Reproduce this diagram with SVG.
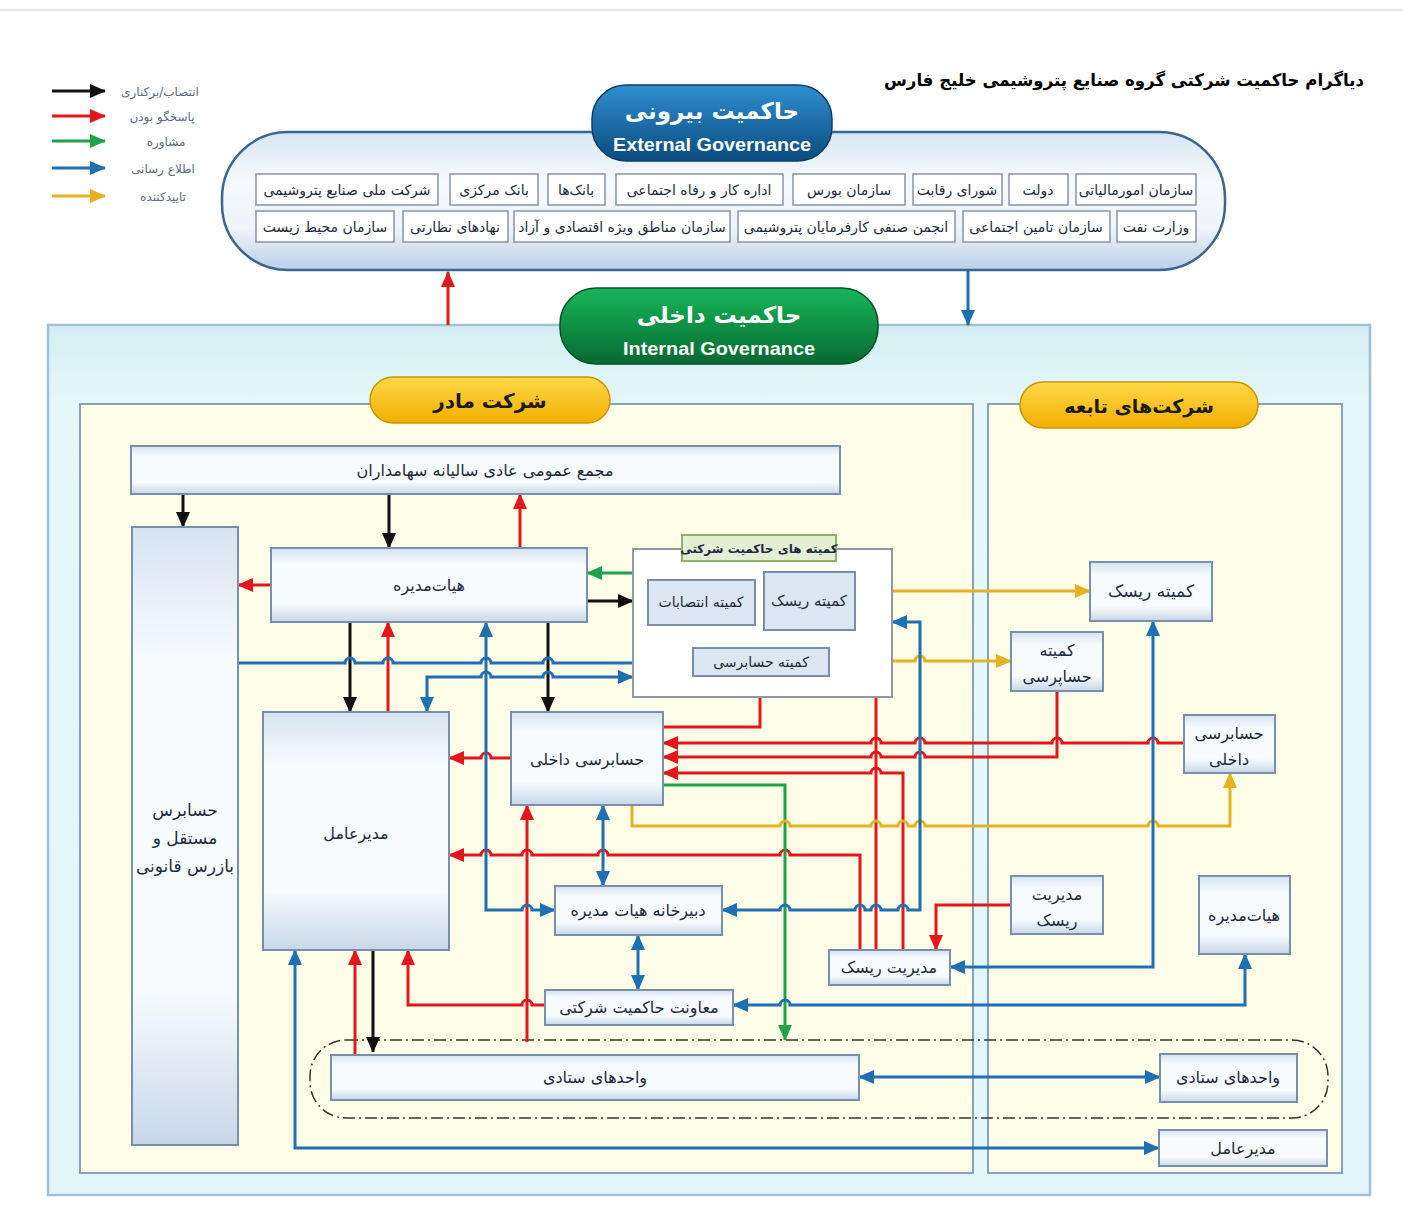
<svg xmlns="http://www.w3.org/2000/svg" width="1403" height="1221" viewBox="0 0 1403 1221">
<defs>
<linearGradient id="gExt" x1="0" y1="0" x2="0" y2="1"><stop offset="0" stop-color="#d6e5f3"/><stop offset="0.35" stop-color="#f7fafd"/><stop offset="0.7" stop-color="#eef4fa"/><stop offset="1" stop-color="#b9d0e8"/></linearGradient>
<linearGradient id="gBlue" x1="0" y1="0" x2="0" y2="1"><stop offset="0" stop-color="#2f8fd0"/><stop offset="1" stop-color="#0b4b80"/></linearGradient>
<linearGradient id="gGreen" x1="0" y1="0" x2="0" y2="1"><stop offset="0" stop-color="#17b659"/><stop offset="1" stop-color="#086a31"/></linearGradient>
<linearGradient id="gYel" x1="0" y1="0" x2="0" y2="1"><stop offset="0" stop-color="#ffd84a"/><stop offset="1" stop-color="#f2ae00"/></linearGradient>
<linearGradient id="gNode" x1="0" y1="0" x2="0" y2="1"><stop offset="0" stop-color="#d6e3f1"/><stop offset="0.22" stop-color="#f8fbfe"/><stop offset="0.75" stop-color="#f8fbfe"/><stop offset="1" stop-color="#c7d7e8"/></linearGradient>
<linearGradient id="gIn" x1="0" y1="0" x2="0" y2="1"><stop offset="0" stop-color="#d3eef3"/><stop offset="0.1" stop-color="#e6f8fa"/><stop offset="1" stop-color="#e2f5f8"/></linearGradient>
<marker id="aK" markerUnits="userSpaceOnUse" markerWidth="16" markerHeight="14" refX="15" refY="7" orient="auto-start-reverse"><path d="M0,0 L16,7 L0,14 z" fill="#111"/></marker>
<marker id="aR" markerUnits="userSpaceOnUse" markerWidth="16" markerHeight="14" refX="15" refY="7" orient="auto-start-reverse"><path d="M0,0 L16,7 L0,14 z" fill="#e3161c"/></marker>
<marker id="aG" markerUnits="userSpaceOnUse" markerWidth="16" markerHeight="14" refX="15" refY="7" orient="auto-start-reverse"><path d="M0,0 L16,7 L0,14 z" fill="#1fa34a"/></marker>
<marker id="aB" markerUnits="userSpaceOnUse" markerWidth="16" markerHeight="14" refX="15" refY="7" orient="auto-start-reverse"><path d="M0,0 L16,7 L0,14 z" fill="#1f6fb3"/></marker>
<marker id="aY" markerUnits="userSpaceOnUse" markerWidth="16" markerHeight="14" refX="15" refY="7" orient="auto-start-reverse"><path d="M0,0 L16,7 L0,14 z" fill="#e5b222"/></marker>
</defs>
<style>
.t{font-family:"DejaVu Sans",sans-serif;font-size:16px;fill:#1c2b3c;text-anchor:middle}
.e{font-size:14px}
.w{fill:#fff}
.b{font-weight:bold}
.box{fill:url(#gNode);stroke:#7890ab;stroke-width:2}
.cb{fill:#dbe6f2;stroke:#7a8ea6;stroke-width:2}
.ext{fill:#fff;stroke:#8795a6;stroke-width:1.5}
.c{fill:none;stroke-width:3;stroke-linejoin:miter}
.k{stroke:#111}.r{stroke:#e3161c}.g{stroke:#1fa34a}.bl{stroke:#1f6fb3}.y{stroke:#e5b222}
.lg{font-family:"DejaVu Sans",sans-serif;font-size:12px;fill:#5b6b80;text-anchor:middle}
.en{font-family:"Liberation Sans",sans-serif;font-size:19px;font-weight:bold;fill:#fff;text-anchor:middle}
</style>
<rect width="1403" height="1221" fill="#fff"/>
<line x1="0" y1="10" x2="1403" y2="10" stroke="#c9d2dc" stroke-width="1"/>

<g id="title"><text class="t b" x="1124" y="86" style="font-size:17px;fill:#000" textLength="480" lengthAdjust="spacingAndGlyphs">دیاگرام حاکمیت شرکتی گروه صنایع پتروشیمی خلیج فارس</text></g>

<g id="legend">
<line class="c k" x1="52" y1="91" x2="105" y2="91" marker-end="url(#aK)"/>
<line class="c r" x1="52" y1="116" x2="105" y2="116" marker-end="url(#aR)"/>
<line class="c g" x1="52" y1="141" x2="105" y2="141" marker-end="url(#aG)"/>
<line class="c bl" x1="52" y1="168" x2="105" y2="168" marker-end="url(#aB)"/>
<line class="c y" x1="52" y1="196" x2="105" y2="196" marker-end="url(#aY)"/>
<text class="lg" x="160" y="96">انتصاب/برکناری</text>
<text class="lg" x="162" y="121">پاسخگو بودن</text>
<text class="lg" x="166" y="146">مشاوره</text>
<text class="lg" x="163" y="173">اطلاع رسانی</text>
<text class="lg" x="163" y="201">تاییدکننده</text>
</g>

<g id="external">
<rect x="222" y="132" width="1003" height="138" rx="66" fill="url(#gExt)" stroke="#3c6690" stroke-width="2.5"/>
<g id="ext-title"><rect x="592" y="85" width="240" height="76" rx="34" fill="url(#gBlue)" stroke="#0a3d68" stroke-width="1.5"/>
<text class="t w b" x="712" y="119" style="font-size:23px">حاکمیت بیرونی</text>
<text class="en" x="712" y="151" textLength="198" lengthAdjust="spacingAndGlyphs">External Governance</text></g>
<g id="e1"><rect class="ext" x="256" y="174" width="182" height="31"/><text class="t e" x="347" y="195">شرکت ملی صنایع پتروشیمی</text></g>
<g id="e2"><rect class="ext" x="450" y="174" width="88" height="31"/><text class="t e" x="494" y="195">بانک مرکزی</text></g>
<g id="e3"><rect class="ext" x="548" y="174" width="57" height="31"/><text class="t e" x="576" y="195">بانک&#8204;ها</text></g>
<g id="e4"><rect class="ext" x="616" y="174" width="167" height="31"/><text class="t e" x="699" y="195">اداره کار و رفاه اجتماعی</text></g>
<g id="e5"><rect class="ext" x="793" y="174" width="112" height="31"/><text class="t e" x="849" y="195">سازمان بورس</text></g>
<g id="e6"><rect class="ext" x="913" y="174" width="89" height="31"/><text class="t e" x="957" y="195">شورای رقابت</text></g>
<g id="e7"><rect class="ext" x="1009" y="174" width="59" height="31"/><text class="t e" x="1038" y="195">دولت</text></g>
<g id="e8"><rect class="ext" x="1076" y="174" width="120" height="31"/><text class="t e" x="1136" y="195">سازمان امورمالیاتی</text></g>
<g id="e9"><rect class="ext" x="256" y="211" width="138" height="31"/><text class="t e" x="325" y="232">سازمان محیط زیست</text></g>
<g id="e10"><rect class="ext" x="403" y="211" width="105" height="31"/><text class="t e" x="455" y="232">نهادهای نظارتی</text></g>
<g id="e11"><rect class="ext" x="514" y="211" width="216" height="31"/><text class="t e" x="622" y="232">سازمان مناطق ویژه اقتصادی و آزاد</text></g>
<g id="e12"><rect class="ext" x="738" y="211" width="217" height="31"/><text class="t e" x="846" y="232">انجمن صنفی کارفرمایان پتروشیمی</text></g>
<g id="e13"><rect class="ext" x="963" y="211" width="147" height="31"/><text class="t e" x="1036" y="232">سازمان تامین اجتماعی</text></g>
<g id="e14"><rect class="ext" x="1117" y="211" width="79" height="31"/><text class="t e" x="1156" y="232">وزارت نفت</text></g>
</g>

<g id="internal">
<rect x="48" y="325" width="1322" height="870" fill="url(#gIn)" stroke="#9fc2d2" stroke-width="2.5"/>
<rect x="80" y="404" width="893" height="769" fill="#fefde8" stroke="#86a3be" stroke-width="2"/>
<rect x="988" y="404" width="354" height="769" fill="#fefde8" stroke="#86a3be" stroke-width="2"/>
<g id="int-title"><rect x="560" y="288" width="318" height="76" rx="36" fill="url(#gGreen)" stroke="#064d24" stroke-width="1.5"/>
<text class="t w b" x="719" y="323" style="font-size:23px">حاکمیت داخلی</text>
<text class="en" x="719" y="355" textLength="192" lengthAdjust="spacingAndGlyphs">Internal Governance</text></g>
<g id="mother-label"><rect x="370" y="377" width="240" height="46" rx="23" fill="url(#gYel)" stroke="#c99500" stroke-width="1.5"/><text class="t b" x="490" y="408" style="font-size:20px;fill:#1a1a1a">شرکت مادر</text></g>
<g id="sub-label"><rect x="1020" y="382" width="238" height="46" rx="23" fill="url(#gYel)" stroke="#c99500" stroke-width="1.5"/><text class="t b" x="1139" y="413" style="font-size:19px;fill:#1a1a1a">شرکت&#8204;های تابعه</text></g>
</g>

<g id="staff-group"><rect x="310" y="1040" width="1018" height="78" rx="36" fill="none" stroke="#333" stroke-width="1.5" stroke-dasharray="12,4,2,4"/></g>

<g id="connectors">
<path class="c r" d="M448,325 V272" marker-end="url(#aR)"/>
<path class="c bl" d="M968,270 V325" marker-end="url(#aB)"/>
<path class="c k" d="M183,494 V527" marker-end="url(#aK)"/>
<path class="c k" d="M389,494 V548" marker-end="url(#aK)"/>
<path class="c k" d="M587,601 H633" marker-end="url(#aK)"/>
<path class="c k" d="M350,622 V712" marker-end="url(#aK)"/>
<path class="c k" d="M548,622 V712" marker-end="url(#aK)"/>
<path class="c k" d="M373,950 V1052" marker-end="url(#aK)"/>
<path class="c r" d="M520,548 V494" marker-end="url(#aR)"/>
<path class="c r" d="M271,585 H238" marker-end="url(#aR)"/>
<path class="c r" d="M388,712 V622" marker-end="url(#aR)"/>
<path class="c r" d="M511,758 H491 a5,5 0 0 0 -10,0 H449" marker-end="url(#aR)"/>
<path class="c r" d="M663,727 H760 V676" marker-end="url(#aR)"/>
<path class="c r" d="M1184,743 H1158 a5,5 0 0 0 -10,0 H1062 a5,5 0 0 0 -10,0 H925 a5,5 0 0 0 -10,0 H881 a5,5 0 0 0 -10,0 H663" marker-end="url(#aR)"/>
<path class="c r" d="M1057,691 V757 H925 a5,5 0 0 0 -10,0 H881 a5,5 0 0 0 -10,0 H663" marker-end="url(#aR)"/>
<path class="c r" d="M903,950 V773 H881 a5,5 0 0 0 -10,0 H663" marker-end="url(#aR)"/>
<path class="c r" d="M876,950 V603 H855" marker-end="url(#aR)"/>
<path class="c r" d="M860,950 V855 H790 a5,5 0 0 0 -10,0 H608 a5,5 0 0 0 -10,0 H532 a5,5 0 0 0 -10,0 H491 a5,5 0 0 0 -10,0 H449" marker-end="url(#aR)"/>
<path class="c r" d="M545,1005 H532 a5,5 0 0 0 -10,0 H408 V950" marker-end="url(#aR)"/>
<path class="c r" d="M527,1042 V805" marker-end="url(#aR)"/>
<path class="c r" d="M355,1055 V950" marker-end="url(#aR)"/>
<path class="c r" d="M1011,905 H936 V950" marker-end="url(#aR)"/>
<path class="c g" d="M633,573 H587" marker-end="url(#aG)"/>
<path class="c g" d="M663,785 H785 V1040" marker-end="url(#aG)"/>
<path class="c y" d="M855,591 H1090" marker-end="url(#aY)"/>
<path class="c y" d="M829,661 H871 a5,5 0 0 1 10,0 H915 a5,5 0 0 1 10,0 H1011" marker-end="url(#aY)"/>
<path class="c y" d="M632,805 V826 H780 a5,5 0 0 1 10,0 H871 a5,5 0 0 1 10,0 H898 a5,5 0 0 1 10,0 H915 a5,5 0 0 1 10,0 H1148 a5,5 0 0 1 10,0 H1230 V773" marker-end="url(#aY)"/>
<path class="c bl" d="M238,663 H345 a5,5 0 0 1 10,0 H383 a5,5 0 0 1 10,0 H481 a5,5 0 0 1 10,0 H543 a5,5 0 0 1 10,0 H693" marker-end="url(#aB)"/>
<path class="c bl" d="M427,712 V677 H481 a5,5 0 0 1 10,0 H543 a5,5 0 0 1 10,0 H633" marker-start="url(#aB)" marker-end="url(#aB)"/>
<path class="c bl" d="M486,622 V910 H522 a5,5 0 0 1 10,0 H555" marker-start="url(#aB)" marker-end="url(#aB)"/>
<path class="c bl" d="M603,805 V886" marker-start="url(#aB)" marker-end="url(#aB)"/>
<path class="c bl" d="M638,935 V990" marker-start="url(#aB)" marker-end="url(#aB)"/>
<path class="c bl" d="M892,622 H920 V910 H908 a5,5 0 0 0 -10,0 H881 a5,5 0 0 0 -10,0 H865 a5,5 0 0 0 -10,0 H790 a5,5 0 0 0 -10,0 H722" marker-start="url(#aB)" marker-end="url(#aB)"/>
<path class="c bl" d="M1153,621 V967 H950" marker-start="url(#aB)" marker-end="url(#aB)"/>
<path class="c bl" d="M733,1005 H780 a5,5 0 0 1 10,0 H1245 V954" marker-start="url(#aB)" marker-end="url(#aB)"/>
<path class="c bl" d="M859,1077 H1160" marker-start="url(#aB)" marker-end="url(#aB)"/>
<path class="c bl" d="M295,950 V1148 H1159" marker-start="url(#aB)" marker-end="url(#aB)"/>
</g>

<g id="n-majma"><rect class="box" x="131" y="446" width="709" height="48"/><text class="t" x="485" y="476">مجمع عمومی عادی سالیانه سهامداران</text></g>
<g id="n-auditor"><rect class="box" x="132" y="527" width="106" height="618"/><text class="t" x="185" y="816" style="font-size:17px">حسابرس</text><text class="t" x="185" y="844" style="font-size:17px">مستقل و</text><text class="t" x="185" y="872" style="font-size:17px">بازرس قانونی</text></g>
<g id="n-board"><rect class="box" x="271" y="548" width="316" height="74"/><text class="t" x="429" y="591">هیات&#8204;مدیره</text></g>
<g id="n-committees"><rect x="633" y="549" width="259" height="148" fill="#fff" stroke="#8d99a6" stroke-width="2"/>
<rect x="682" y="535" width="154" height="26" fill="#e3efd3" stroke="#8fb26a" stroke-width="2"/><text class="t b" x="759" y="553" style="font-size:12px">کمیته های حاکمیت شرکتی</text></g>
<g id="n-appoint"><rect class="cb" x="648" y="580" width="107" height="45"/><text class="t" x="701" y="607" style="font-size:14px">کمیته انتصابات</text></g>
<g id="n-riskc"><rect class="cb" x="764" y="572" width="91" height="58"/><text class="t" x="809" y="606" style="font-size:15px">کمیته ریسک</text></g>
<g id="n-auditc"><rect class="cb" x="693" y="648" width="136" height="28"/><text class="t" x="761" y="667" style="font-size:14px">کمیته حسابرسی</text></g>
<g id="n-ceo"><rect class="box" x="263" y="712" width="186" height="238"/><text class="t" x="356" y="839">مدیرعامل</text></g>
<g id="n-ia"><rect class="box" x="511" y="712" width="152" height="93"/><text class="t" x="587" y="765">حسابرسی داخلی</text></g>
<g id="n-sec"><rect class="box" x="555" y="886" width="167" height="49"/><text class="t" x="638" y="916">دبیرخانه هیات مدیره</text></g>
<g id="n-deputy"><rect class="box" x="545" y="990" width="188" height="35"/><text class="t" x="639" y="1013">معاونت حاکمیت شرکتی</text></g>
<g id="n-riskm"><rect class="box" x="829" y="950" width="121" height="35"/><text class="t" x="889" y="973">مدیریت ریسک</text></g>
<g id="n-staff"><rect class="box" x="331" y="1055" width="528" height="45"/><text class="t" x="595" y="1083">واحدهای ستادی</text></g>

<g id="s-riskc"><rect class="box" x="1090" y="562" width="122" height="59"/><text class="t" x="1151" y="597" style="font-size:17px">کمیته ریسک</text></g>
<g id="s-auditc"><rect class="box" x="1011" y="632" width="92" height="59"/><text class="t" x="1057" y="656">کمیته</text><text class="t" x="1057" y="682">حساپرسی</text></g>
<g id="s-ia"><rect class="box" x="1184" y="715" width="91" height="58"/><text class="t" x="1229" y="739">حسابرسی</text><text class="t" x="1229" y="765">داخلی</text></g>
<g id="s-riskm"><rect class="box" x="1011" y="876" width="92" height="58"/><text class="t" x="1057" y="900">مدیریت</text><text class="t" x="1057" y="926">ریسک</text></g>
<g id="s-board"><rect class="box" x="1199" y="876" width="91" height="78"/><text class="t" x="1244" y="921">هیات&#8204;مدیره</text></g>
<g id="s-staff"><rect class="box" x="1160" y="1054" width="137" height="48"/><text class="t" x="1228" y="1083">واحدهای ستادی</text></g>
<g id="s-ceo"><rect class="box" x="1159" y="1130" width="168" height="36"/><text class="t" x="1243" y="1154">مدیرعامل</text></g>
</svg>
